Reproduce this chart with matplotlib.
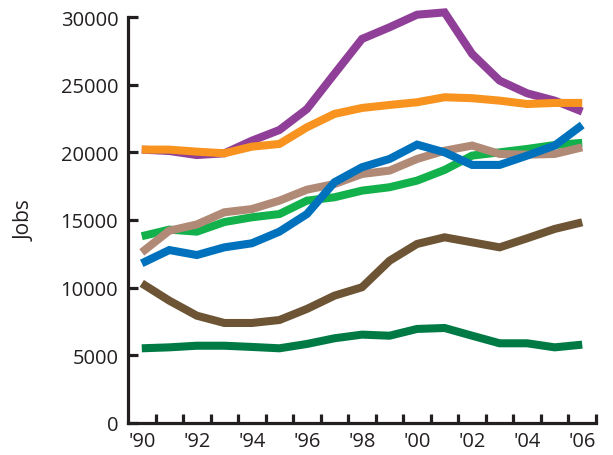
import matplotlib
matplotlib.use("Agg")
import matplotlib.pyplot as plt
import numpy as np

plt.rcParams["font.family"] = ["Open Sans", "DejaVu Sans"]

# ---------------------------
# Data
# ---------------------------
years = list(range(1990, 2007))

dark_green = [5520, 5590, 5710, 5710, 5620, 5520, 5840, 6260, 6530,
              6450, 6950, 7020, 6450, 5890, 5890, 5590, 5790]
brown = [10320, 9040, 7930, 7390, 7390, 7610, 8430, 9410, 10030,
         11990, 13230, 13720, 13350, 12980, 13650, 14340, 14830]
green = [13800, 14290, 14140, 14850, 15200, 15440, 16430, 16680, 17170,
         17420, 17910, 18700, 19760, 20000, 20250, 20540, 20700]
tan = [12610, 14210, 14670, 15570, 15810, 16430, 17240, 17660, 18400,
       18650, 19510, 20120, 20500, 19880, 19830, 19880, 20370]
blue = [11800, 12780, 12410, 12980, 13280, 14140, 15440, 17790, 18900,
        19510, 20570, 20000, 19070, 19070, 19760, 20500, 22020]
purple = [20200, 20100, 19800, 19930, 20860, 21650, 23200, 25800, 28380,
          29240, 30170, 30340, 27270, 25300, 24360, 23820, 23010]
orange = [20200, 20200, 20050, 19930, 20420, 20620, 21850, 22840, 23280,
          23500, 23700, 24070, 24000, 23820, 23570, 23650, 23650]

series = [
    (dark_green, "#007A45"),
    (brown, "#6C5434"),
    (green, "#12B14B"),
    (tan, "#B08A76"),
    (blue, "#0071BC"),
    (purple, "#8F3F97"),
    (orange, "#F7931E"),
]

year_labels = ["'90", "'92", "'94", "'96", "'98", "'00", "'02", "'04", "'06"]

# ---------------------------
# Plot
# ---------------------------
fig = plt.figure(figsize=(6.13, 4.56), dpi=100)
ax = fig.add_axes([128 / 613, (456 - 424) / 456, (596 - 128) / 613, (424 - 18) / 456])

for values, color in series:
    ax.plot(years, values, color=color, lw=5.8, clip_on=False,
            solid_capstyle="butt", solid_joinstyle="miter")

ax.set_xlim(1989.5, 2006.5)
ax.set_ylim(0, 30000)

ax.spines["top"].set_visible(False)
ax.spines["right"].set_visible(False)
for side in ("left", "bottom"):
    ax.spines[side].set_linewidth(2.3)
    ax.spines[side].set_color("#231F20")

ax.set_yticks(np.arange(0, 30001, 5000))
ax.tick_params(axis="y", direction="in", length=7, width=2.3, color="#231F20",
               labelsize=14.5, labelcolor="#231F20", pad=7)

ax.set_xticks(years[::2])
ax.set_xticklabels(year_labels)
ax.set_xticks(np.arange(1990.5, 2007, 1), minor=True)
ax.tick_params(axis="x", which="major", length=0, labelsize=14.5,
               labelcolor="#231F20", pad=6)
ax.tick_params(axis="x", which="minor", direction="in", length=6.5, width=2.3,
               color="#231F20")

ax.set_ylabel("Jobs", fontsize=15, color="#231F20", labelpad=18)

fig.savefig("out.png", dpi=100)
plt.close(fig)
